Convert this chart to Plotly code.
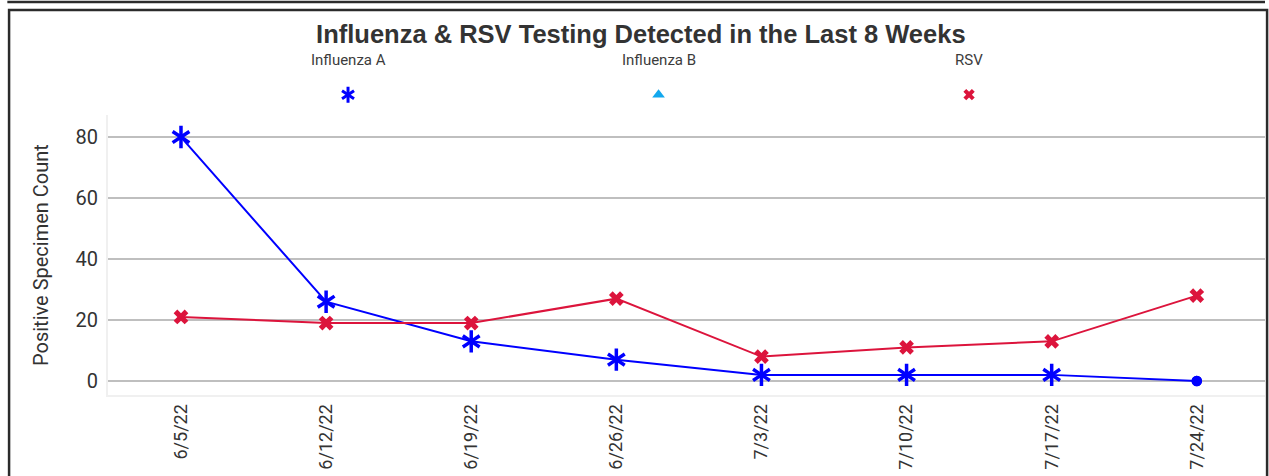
import plotly.graph_objects as go

# data
weeks = ["6/5/22", "6/12/22", "6/19/22", "6/26/22", "7/3/22", "7/10/22", "7/17/22", "7/24/22"]
flu_a = [80, 26, 13, 7, 2, 2, 2, 0]
flu_b = [None, None, None, None, None, None, None, None]
rsv = [21, 19, 19, 27, 8, 11, 13, 28]

series_names = ["Influenza A", "Influenza B", "RSV"]
series_colors = ["#0000FF", "#12A8EE", "#DC143C"]

TXT = "#333333"
FONT = "Roboto, Arial, sans-serif"

# legend slots live on a hidden axis; these map it onto paper coords
LEG_X0, LEG_X1 = -0.773, 2.953


def star_marker(values, symbol, size, width):
    # six-armed asterisk built from two overlaid "y" symbols, dot at zero
    return dict(
        symbol=[symbol if v > 0 else "circle" for v in values],
        size=[size if v > 0 else 7 for v in values],
        color=series_colors[0], opacity=1,
        line=dict(color=series_colors[0], width=width),
    )


fig = go.Figure()

fig.add_trace(go.Scatter(
    x=weeks, y=flu_a, mode="lines+markers", name=series_names[0],
    line=dict(color=series_colors[0], width=2),
    marker=star_marker(flu_a, "y-up-open", 14, 3.5),
    hoverinfo="x+y",
))
fig.add_trace(go.Scatter(
    x=weeks, y=flu_a, mode="markers", name=series_names[0],
    marker=star_marker(flu_a, "y-down-open", 14, 3.5),
    hoverinfo="skip",
))

fig.add_trace(go.Scatter(
    x=weeks, y=flu_b, mode="lines+markers", name=series_names[1],
    line=dict(color=series_colors[1], width=2),
    marker=dict(symbol="triangle-up", size=10, color=series_colors[1]),
))

fig.add_trace(go.Scatter(
    x=weeks, y=rsv, mode="lines+markers", name=series_names[2],
    line=dict(color=series_colors[2], width=2),
    marker=dict(symbol="x", size=13, color=series_colors[2], opacity=1,
                line=dict(width=0)),
))

# custom legend: label above, marker below
leg_x = [0, 1, 2]
leg_y = [0.5, 0.5, 0.5]
fig.add_trace(go.Scatter(
    x=leg_x[:1] * 2, y=leg_y[:1] * 2, xaxis="x2", yaxis="y2",
    mode="markers", hoverinfo="skip",
    marker=dict(symbol=["y-up-open", "y-down-open"], size=10, color=series_colors[0],
                opacity=1, line=dict(color=series_colors[0], width=3)),
))
fig.add_trace(go.Scatter(
    x=leg_x[1:], y=leg_y[1:], xaxis="x2", yaxis="y2",
    mode="markers", hoverinfo="skip",
    marker=dict(symbol=["triangle-up", "x"], size=[11, 10], color=series_colors[1:],
                opacity=1, line=dict(width=0)),
))
for i, name in enumerate(series_names):
    fig.add_annotation(
        x=(leg_x[i] - LEG_X0) / (LEG_X1 - LEG_X0), y=0.871, xref="paper", yref="paper",
        text=name, showarrow=False, xanchor="center", yanchor="middle",
        font=dict(family=FONT, size=15, color="#3c3c3c"),
    )

# outer box
fig.add_shape(type="rect", xref="paper", yref="paper",
              x0=-0.0855, x1=1.0018, y0=-0.3, y1=1.0,
              line=dict(color="#2b2b2b", width=2.5))
fig.add_shape(type="line", xref="paper", yref="paper",
              x0=-0.087, x1=1.0, y0=1.021, y1=1.021,
              line=dict(color="#2b2b2b", width=2.5))

fig.update_layout(
    width=1269, height=476,
    margin=dict(l=108, r=4, t=10, b=81),
    paper_bgcolor="white", plot_bgcolor="white",
    showlegend=False,
    title=dict(
        text="<b>Influenza & RSV Testing Detected in the Last 8 Weeks</b>",
        x=0.505, xanchor="center", y=0.928, yanchor="middle",
        font=dict(family="Liberation Sans, Arial, sans-serif", size=25.5, color=TXT),
    ),
    xaxis=dict(
        type="category", range=[-0.503, 7.47],
        tickangle=-90, showgrid=False, ticks="",
        tickfont=dict(family=FONT, size=18, color=TXT),
        showline=True, linecolor="#F0F0F0", linewidth=2,
    ),
    yaxis=dict(
        domain=[0, 0.727], range=[-4.6, 87.2],
        tickvals=[0, 20, 40, 60, 80],
        gridcolor="#BFBFBF", gridwidth=2, zeroline=False,
        tickfont=dict(family=FONT, size=20, color=TXT),
        ticklabelstandoff=4,
        title=dict(text="Positive Specimen Count", standoff=22,
                   font=dict(family=FONT, size=20, color=TXT)),
        showline=True, linecolor="#F0F0F0", linewidth=2,
    ),
    xaxis2=dict(domain=[0, 1], range=[LEG_X0, LEG_X1], visible=False,
                anchor="y2", fixedrange=True),
    yaxis2=dict(domain=[0.74, 0.82], range=[0, 1], visible=False,
                anchor="x2", fixedrange=True),
)

fig.write_html("out.html", config={"displayModeBar": False},
               post_script="document.body.style.margin='0px';")
